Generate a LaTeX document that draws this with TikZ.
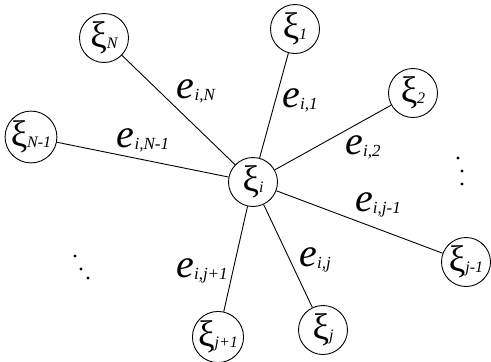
\documentclass[tikz,border=0pt]{standalone}
\usepackage{fontspec}
\setmainfont{Liberation Serif}
\usetikzlibrary{positioning}
\newcommand{\xisym}[1]{{\fontsize{37}{37}\selectfont ξ}\raisebox{-1pt}{\fontsize{16}{16}\selectfont\itshape #1}}
\newcommand{\elabel}[1]{{\fontsize{40}{40}\selectfont\itshape e}\raisebox{-2pt}{\fontsize{17}{17}\selectfont\itshape #1}}

\begin{document}
\begin{tikzpicture}[x=1pt,y=-1pt, line width=0.9pt,
    agent/.style={draw, circle, inner sep=0pt, minimum size=49pt},
    weight/.style={inner sep=0pt}]
  \useasboundingbox (0,0) rectangle (491,362);
  % agents
  \node[agent] (xi)  at (253,182) {\xisym{i}};
  \node[agent] (xN)  at (104,38)  {\xisym{N}};
  \node[agent] (xN1) at (31,137)  {\xisym{N-1}};
  \node[agent] (x1)  at (295,29)  {\xisym{1}};
  \node[agent] (x2)  at (413,93)  {\xisym{2}};
  \node[agent] (xjm) at (466,262) {\xisym{j-1}};
  \node[agent] (xj)  at (323,330) {\xisym{j}};
  \node[agent] (xjp) at (218,337) {\xisym{j+1}};
  % links
  \foreach \n in {xN,xN1,x1,x2,xjm,xj,xjp}
    \draw (xi) -- (\n);
  % link weights
  \node[weight] (eN)  at (196,91)  {\elabel{i,N}};
  \node[weight] (eN1) at (143,140) {\elabel{i,N-1}};
  \node[weight] (e1)  at (300,100) {\elabel{i,1}};
  \node[weight] (e2)  at (363,147) {\elabel{i,2}};
  \node[weight] (ejm) at (378,205) {\elabel{i,j-1}};
  \node[weight] (ej)  at (315,260) {\elabel{i,j}};
  \node[weight] (ejp) at (202,271) {\elabel{i,j+1}};
  % dots
  \foreach \p in {(458,158),(462,171),(462,184),(75,256),(81,269),(88,278)}
    \fill \p circle (1.6pt);
\end{tikzpicture}
\end{document}
